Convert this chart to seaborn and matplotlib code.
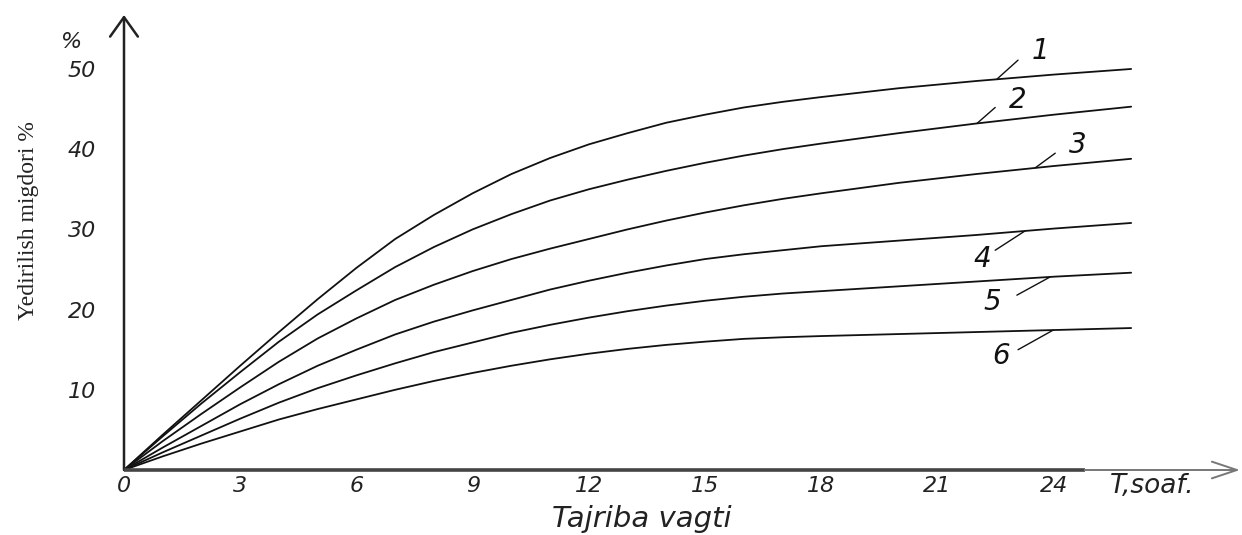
import numpy as np
import pandas as pd
import matplotlib
matplotlib.use("Agg")
import matplotlib.pyplot as plt
import seaborn as sns

# Experiment time, hours
hours = [0, 1, 2, 3, 4, 5, 6, 7, 8, 9, 10, 11, 12, 13, 14, 15, 16, 17, 18, 20, 22, 24, 26]

# Wear amount, % (curves 1..6)
curve_1 = [0, 4.4, 8.7, 13.0, 17.2, 21.3, 25.2, 28.8, 31.8, 34.5, 36.9, 38.9, 40.6,
           42.0, 43.3, 44.3, 45.2, 45.9, 46.5, 47.6, 48.5, 49.3, 50.0]
curve_2 = [0, 4.2, 8.3, 12.2, 16.0, 19.4, 22.4, 25.3, 27.8, 30.0, 31.9, 33.6, 35.0,
           36.2, 37.3, 38.3, 39.2, 40.0, 40.7, 42.0, 43.2, 44.3, 45.3]
curve_3 = [0, 3.6, 7.0, 10.3, 13.5, 16.4, 18.9, 21.2, 23.1, 24.8, 26.3, 27.6, 28.8,
           30.0, 31.1, 32.1, 33.0, 33.8, 34.5, 35.8, 36.9, 37.9, 38.8]
curve_4 = [0, 2.8, 5.5, 8.2, 10.7, 13.0, 15.0, 16.9, 18.5, 19.9, 21.2, 22.5, 23.6,
           24.6, 25.5, 26.3, 26.9, 27.4, 27.9, 28.6, 29.3, 30.1, 30.8]
curve_5 = [0, 2.2, 4.3, 6.4, 8.4, 10.2, 11.8, 13.3, 14.7, 15.9, 17.1, 18.1, 19.0,
           19.8, 20.5, 21.1, 21.6, 22.0, 22.3, 22.9, 23.5, 24.1, 24.6]
curve_6 = [0, 1.7, 3.3, 4.8, 6.3, 7.6, 8.8, 10.0, 11.1, 12.1, 13.0, 13.8, 14.5,
           15.1, 15.6, 16.0, 16.35, 16.55, 16.7, 16.95, 17.2, 17.45, 17.7]

curve_names = ["1", "2", "3", "4", "5", "6"]
x_ticks = [0, 3, 6, 9, 12, 15, 18, 21, 24]
y_ticks = [10, 20, 30, 40, 50]

series = [curve_1, curve_2, curve_3, curve_4, curve_5, curve_6]
df = pd.DataFrame({
    "T": np.tile(hours, len(series)),
    "wear": np.concatenate(series),
    "curve": np.repeat(curve_names, len(hours)),
})

sns.set_theme(style="white")
plt.rcParams["font.family"] = ["DejaVu Sans"]

W, H = 1242, 535
fig = plt.figure(figsize=(W / 100, H / 100), dpi=100)
ax = fig.add_axes([124 / W, 65 / H, 1116 / W, 455 / H])

sns.lineplot(data=df, x="T", y="wear", hue="curve", palette=["#111111"] * 6,
             legend=False, linewidth=1.3, estimator=None, sort=False, ax=ax)
for ln in ax.get_lines():
    ln.set_solid_joinstyle("round")

ax.set_xlim(0, 28.81)
ax.set_ylim(0, 56.73)
for s in ax.spines.values():
    s.set_visible(False)
ax.set_xlabel("")
ax.set_ylabel("")

ax.set_xticks(x_ticks)
ax.set_yticks(y_ticks)
ax.tick_params(axis="both", direction="in", length=7, width=1.2,
               color="#333333", labelcolor="#222222", labelsize=16)
ax.tick_params(axis="x", pad=4)
ax.tick_params(axis="y", pad=20)
for lbl in ax.get_xticklabels() + ax.get_yticklabels():
    lbl.set_style("italic")

# axes drawn as arrows
ax.annotate("", xy=(0, 1.0), xytext=(0, 0), xycoords="axes fraction",
            arrowprops=dict(arrowstyle="->,head_length=0.7,head_width=0.5",
                            lw=1.8, color="#222222", mutation_scale=20,
                            shrinkA=0, shrinkB=0),
            annotation_clip=False)
ax.plot([0, 24.8], [0, 0], color="#444444", lw=2.6, clip_on=False,
        solid_capstyle="butt", zorder=3)
ax.annotate("", xy=(28.81, 0), xytext=(24.8, 0), xycoords="data",
            arrowprops=dict(arrowstyle="->,head_length=0.9,head_width=0.3",
                            lw=1.4, color="#777777", mutation_scale=20,
                            shrinkA=0, shrinkB=0),
            annotation_clip=False)

# curve numbers with leader lines
label_specs = [
    # (leader start T, leader end T, leader end value, label T, label value)
    (22.53, 23.08, 51.1, 23.65, 52.3),
    (22.02, 22.49, 45.2, 23.06, 46.1),
    (23.52, 24.04, 39.5, 24.61, 40.5),
    (23.26, 22.49, 27.4, 22.15, 26.3),
    (23.91, 23.05, 21.8, 22.41, 20.9),
    (23.99, 23.08, 15.0, 22.64, 14.2),
]
for name, data, (t0, t1, v1, tl, vl) in zip(curve_names, series, label_specs):
    v0 = np.interp(t0, hours, data)
    ax.plot([t0, t1], [v0, v1], color="#111111", lw=1.0)
    ax.text(tl, vl, name, fontsize=20, style="italic", ha="center",
            va="center", color="#111111")

fig.text(72 / W, 1 - 42 / H, "%", fontsize=16, style="italic",
         ha="center", va="center", color="#222222")
fig.text(1110 / W, 1 - 486 / H, "T,soaf.", fontsize=19, style="italic",
         ha="left", va="center", color="#222222")
fig.text(642 / W, 1 - 527 / H, "Tajriba vagti", fontsize=21, style="italic",
         ha="center", va="baseline", color="#222222")
fig.text(29 / W, 1 - 221 / H, "Yedirilish migdori %", fontsize=17,
         family=["Liberation Serif", "DejaVu Serif"], rotation=90,
         ha="center", va="center", color="#222222")

fig.savefig("out.png", dpi=100, facecolor="white")
